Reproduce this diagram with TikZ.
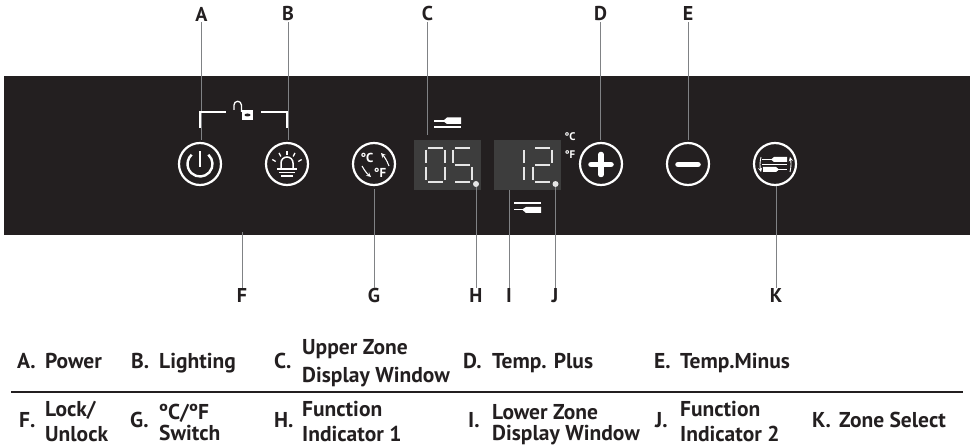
\documentclass[tikz,border=0pt]{standalone}
\usepackage{fontspec}
\setmainfont{PT Sans}
\usepackage{tikz}
\usetikzlibrary{positioning}
\definecolor{panelblack}{HTML}{231F20}
\definecolor{lcdgray}{HTML}{3D3D3D}
\definecolor{leadgray}{HTML}{808285}

\begin{document}
\begin{tikzpicture} [
                x=1pt, y=-1pt,
                button/.style={
                    circle,
                    draw=white,
                    line width=2.2pt,
                    minimum size=42pt,
                    inner sep=0pt
                },
                lcdbox/.style={
                    rectangle,
                    fill=lcdgray,
                    minimum width=67pt,
                    minimum height=50pt,
                    inner sep=0pt
                },
                letter/.style={
                    font=\fontsize{20}{20}\selectfont\bfseries,
                    text=panelblack,
                    inner sep=1pt
                },
                cell/.style={
                    anchor=base west,
                    font=\fontsize{21.5}{21.5}\selectfont\bfseries,
                    text=panelblack,
                    inner sep=0pt
                },
                lead/.style={
                    draw=leadgray,
                    line width=1pt
                },
                lcdseg/.style={
                    draw=white!90!black,
                    line width=1.2pt
                },
                icon/.style={
                    draw=white,
                    line width=1.5pt
                },
                indicator/.style={
                    circle,
                    fill=white!90!black,
                    minimum size=6pt,
                    inner sep=0pt
                },
                tiny/.style={
                    font=\fontsize{11}{11}\selectfont\bfseries,
                    text=white,
                    inner sep=0pt
                }
            ]

                \useasboundingbox (0,0) rectangle (975,446);
                \fill[panelblack] (4,76) rectangle (970,235);

                % buttons
                \node[button]               (power)     at (200,164)    {};
                \node[button]               (lighting)  at (287,164)    {};
                \node[button]               (switch)    at (374,164)    {};
                \node[button]               (plus)      at (601,164)    {};
                \node[button]               (minus)     at (688,164)    {};
                \node[button]               (zone)      at (775,164)    {};

                % display windows
                \node[lcdbox]               (upper)     at (447.5,165)  {};
                \node[lcdbox]               (lower)     at (527.5,165)  {};
                \node[indicator]            (ind1)      at (476,184)    {};
                \node[indicator]            (ind2)      at (555.5,184)  {};

                % letters
                \node[letter]               (lblA)      at (201.5,14)   {A};
                \node[letter]               (lblB)      at (288,14)     {B};
                \node[letter]               (lblC)      at (427.5,14)   {C};
                \node[letter]               (lblD)      at (600.5,14)   {D};
                \node[letter]               (lblE)      at (688,14)     {E};
                \node[letter]               (lblF)      at (242,296)    {F};
                \node[letter]               (lblG)      at (374,296)    {G};
                \node[letter]               (lblH)      at (476,296)    {H};
                \node[letter]               (lblI)      at (509,296)    {I};
                \node[letter]               (lblJ)      at (555,296)    {J};
                \node[letter]               (lblK)      at (776,296)    {K};

                \coordinate (lockend)   at (242,232);

                \draw[lead, shorten >=2pt] (lblA.south) -- (lblA.south |- power.north);
                \draw[lead, shorten >=2pt] (lblB.south) -- (lblB.south |- lighting.north);
                \draw[lead, shorten >=5pt] (lblC.south) -- (lblC.south |- upper.north);
                \draw[lead, shorten >=2pt] (lblD.south) -- (lblD.south |- plus.north);
                \draw[lead, shorten >=2pt] (lblE.south) -- (lblE.south |- minus.north);
                \draw[lead] (lblF.north) -- (lockend);
                \draw[lead, shorten >=3pt] (lblG.north) -- (lblG.north |- switch.south);
                \draw[lead] (lblH.north) -- (ind1.south);
                \draw[lead] (lblI.north) -- (lblI.north |- lower.south);
                \draw[lead] (lblJ.north) -- (lblJ.north |- ind2.south);
                \draw[lead] (lblK.north) -- (lblK.north |- zone.south);

                % power icon
                \draw[icon, line width=2.4pt] (power.center) ++(0,-12.5) -- ++(0,16);
                \draw[icon, line width=2.4pt] ([shift={(48:12.5pt)}]power.center) arc[start angle=48, end angle=-228, radius=12.5pt];

                % lighting icon
                \draw[icon] (281,169) -- (281,163) arc[start angle=180, end angle=0, radius=6pt] -- (293,169);
                \draw[icon] (277,169) -- (297,169);
                \draw[icon] (279,172.5) -- (295,172.5);
                \draw[icon] (281,176) -- (293,176);
                \foreach \a in {30,62,90,118,150}
                    \draw[icon, line width=1.3pt] ([shift={(\a:13pt)}]287,168) -- ([shift={(\a:17pt)}]287,168);

                % switch icon
                \node[tiny, font=\fontsize{13}{13}\selectfont\bfseries] (degC) at (367,158) {°C};
                \node[tiny, font=\fontsize{13}{13}\selectfont\bfseries] (degF) at (380,173) {°F};
                \draw[icon, line width=1.1pt, -stealth] (389,166) to[bend right=10] (381,153);
                \draw[icon, line width=1.1pt, -stealth] (362,166) to[bend right=10] (371,177);

                % plus and minus
                \draw[icon, line width=5.5pt, line cap=round] (591,164.5) -- (611,164.5);
                \draw[icon, line width=5.5pt, line cap=round] (601,154.5) -- (601,174.5);
                \draw[icon, line width=5.5pt, line cap=round] (678,164.5) -- (698,164.5);

                % zone select icon
                \fill[white] (771,159.5) -- (774,157) -- (787,157) -- (787,162) -- (774,162) -- cycle;
                \fill[white] (763,167) -- (776,167) -- (779,169.5) -- (776,172) -- (763,172) -- cycle;
                \draw[icon, line width=1.1pt] (762,159.5) -- (772,159.5);
                \draw[icon, line width=1.1pt] (778,169.5) -- (787,169.5);
                \draw[icon, line width=1.1pt] (762,164.5) -- (787,164.5);
                \draw[icon, line width=.9pt, -stealth] (761,157) to[bend right=12] (761,172);
                \draw[icon, line width=.9pt, -stealth] (790,172) to[bend right=12] (790,157);

                % lock bracket
                \draw[icon, line width=1.2pt] (200,128) -- (200,112) -- (226,112);
                \draw[icon, line width=1.2pt] (261,112) -- (287,112) -- (287,128);
                \fill[white] (242,110) rectangle (253,120);
                \fill[panelblack] (247.5,115) ellipse (3 and 1.5);
                \draw[icon, line width=1.3pt] (234,110) -- (234,105) arc[start angle=180, end angle=0, radius=3.7pt] -- (241.4,112);

                % zone marks
                \draw[icon, line width=1.2pt] (434,121) -- (444,121);
                \fill[white] (443,121) -- (447,117.5) -- (461,117.5) -- (461,124) -- (447,124) -- cycle;
                \draw[icon] (434,127) -- (461,127);
                \draw[icon] (514,203) -- (541,203);
                \draw[icon, line width=1.2pt] (514,209.5) -- (523,209.5);
                \fill[white] (522,209.5) -- (526,207) -- (541,207) -- (541,213) -- (526,213) -- cycle;

                \node[tiny] (unitC) at (570,137) {°C};
                \node[tiny] (unitF) at (570,155) {°F};

                % digits
                \draw[lcdseg, shift={(426,148)}] (2,0) -- (17,0) (19,2) -- (19,15) (19,19) -- (19,32) (2,34) -- (17,34) (0,19) -- (0,32) (0,2) -- (0,15);
                \draw[lcdseg, shift={(453,148)}] (2,0) -- (17,0) (0,2) -- (0,15) (2,17) -- (17,17) (19,19) -- (19,32) (2,34) -- (17,34);
                \draw[lcdseg, shift={(505,148)}] (19,2) -- (19,15) (19,19) -- (19,32);
                \draw[lcdseg, shift={(533,148)}] (2,0) -- (17,0) (19,2) -- (19,15) (2,17) -- (17,17) (0,19) -- (0,32) (2,34) -- (17,34);

                % table
                \coordinate (ruleL) at (11,392);
                \coordinate (ruleR) at (963,392);
                \draw[panelblack, line width=1pt] (ruleL) -- (ruleR);

                \node[cell] (keyA)   at (17,369)  {A.};
                \node[cell] (txtA)   at (45,369)  {Power};
                \node[cell] (keyB)   at (131,369) {B.};
                \node[cell] (txtB)   at (159,369) {Lighting};
                \node[cell] (keyC)   at (274,369) {C.};
                \node[cell] (txtC0)  at (302,355) {Upper Zone};
                \node[cell] (txtC1)  at (302,382) {Display Window};
                \node[cell] (keyD)   at (463,369) {D.};
                \node[cell] (txtD)   at (492,369) {Temp. Plus};
                \node[cell] (keyE)   at (654,369) {E.};
                \node[cell] (txtE)   at (680,369) {Temp.Minus};

                \node[cell] (keyF)   at (19,428)  {F.};
                \node[cell] (txtF0)  at (45,417)  {Lock/};
                \node[cell] (txtF1)  at (45,441)  {Unlock};
                \node[cell] (keyG)   at (130,428) {G.};
                \node[cell] (txtG0)  at (159,419) {ºC/ºF};
                \node[cell] (txtG1)  at (159,440) {Switch};
                \node[cell] (keyH)   at (274,428) {H.};
                \node[cell] (txtH0)  at (302,417) {Function};
                \node[cell] (txtH1)  at (302,441) {Indicator 1};
                \node[cell] (keyI)   at (468,428) {I.};
                \node[cell] (txtI0)  at (492,419) {Lower Zone};
                \node[cell] (txtI1)  at (492,440) {Display Window};
                \node[cell] (keyJ)   at (655,428) {J.};
                \node[cell] (txtJ0)  at (680,417) {Function};
                \node[cell] (txtJ1)  at (680,441) {Indicator 2};
                \node[cell] (keyK)   at (812,428) {K.};
                \node[cell] (txtK)   at (839,428) {Zone Select};

            \end{tikzpicture}
\end{document}
